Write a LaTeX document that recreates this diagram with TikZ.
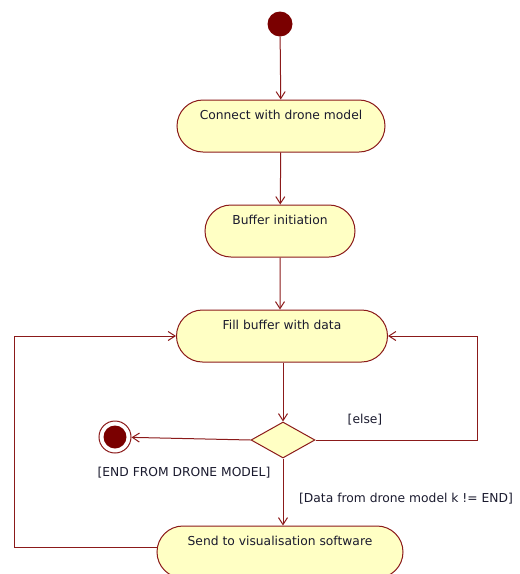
\documentclass[tikz,border=0pt]{standalone}
\usepackage{fontspec}
\setmainfont{DejaVu Sans}
\usetikzlibrary{shapes.geometric,shapes.misc,arrows.meta}
\definecolor{umlred}{HTML}{8B1A1A}
\definecolor{umldot}{HTML}{7A0000}
\definecolor{umlfill}{HTML}{FFFFC4}
\definecolor{umltext}{HTML}{1A1A2E}
\begin{document}
\begin{tikzpicture}[x=1pt,y=-1pt,
  font=\fontsize{12.3}{14}\selectfont,
  action/.style={rounded rectangle, draw=umlred, fill=umlfill, line width=1pt,
    minimum height=52pt, inner sep=0pt, text height=10pt, text depth=23pt, text=umltext},
  flow/.style={draw=umlred, line width=1pt, -{Straight Barb[length=7pt,width=9pt]}},
  guard/.style={text=umltext, inner sep=1pt}]
\useasboundingbox (0,0) rectangle (520,574);
\clip (0,0) rectangle (520,574);
\node[circle, fill=umldot, minimum size=25pt, inner sep=0pt] (init) at (280,24) {};
\node[action, minimum width=208pt] (connect) at (281,126) {Connect with drone model};
\node[action, minimum width=150pt] (buffer) at (280,231) {Buffer initiation};
\node[action, minimum width=211pt] (fill) at (282,336) {Fill buffer with data};
\node[diamond, draw=umlred, fill=umlfill, line width=1pt, minimum width=64pt, minimum height=36pt, inner sep=0pt] (dec) at (283,440) {};
\node[circle, draw=umlred, fill=white, line width=1pt, minimum size=32pt, inner sep=0pt] (final) at (115,437) {};
\node[circle, fill=umldot, minimum size=23pt, inner sep=0pt] (finalin) at (final) {};
\node[action, minimum width=246pt] (send) at (280,552) {Send to visualisation software};
\coordinate (rloop) at (477,440);
\coordinate (lloop) at (14,547);
\draw[flow] (init) -- (connect);
\draw[flow] (connect) -- (buffer);
\draw[flow] (buffer) -- (buffer |- fill.north);
\draw[flow] (fill.south -| dec) -- (dec.north);
\draw[flow] (dec.west) -- (final);
\draw[flow] (dec.east) -- (rloop) |- (fill.east);
\draw[flow] (dec.south) -- (send.north -| dec);
\draw[flow] (send.west |- lloop) -- (lloop) |- (fill.west);
\node[guard] (else) at (365,420) {[else]};
\node[guard] (endg) at (184,473) {[END FROM DRONE MODEL]};
\node[guard] (datag) at (406,499) {[Data from drone model k != END]};
\end{tikzpicture}
\end{document}
